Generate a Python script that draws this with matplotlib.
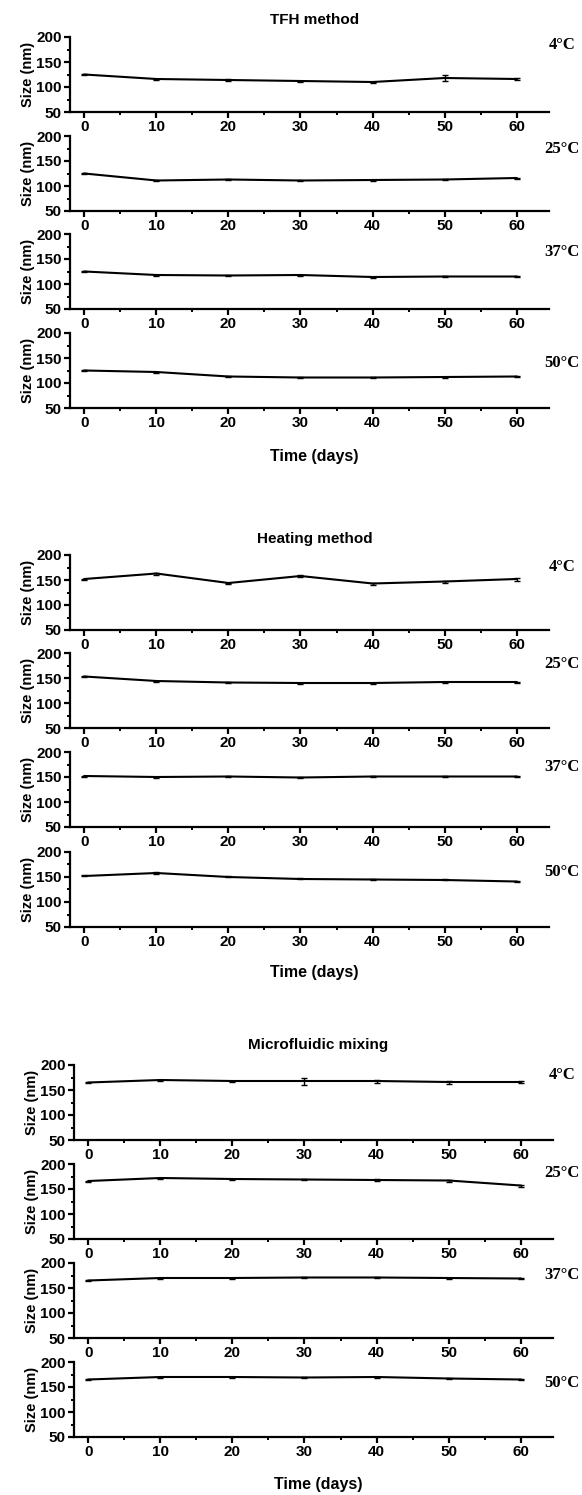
import matplotlib.pyplot as plt
from matplotlib.ticker import MultipleLocator

days = [0, 10, 20, 30, 40, 50, 60]
temps = ["4°C", "25°C", "37°C", "50°C"]
methods = ["TFH method", "Heating method", "Microfluidic mixing"]

# mean particle size (nm), one row per temperature
tfh = [
    [125, 116, 114, 112, 110, 118, 116],
    [125, 111, 113, 111, 112, 113, 116],
    [125, 118, 117, 118, 114, 115, 115],
    [125, 122, 113, 111, 111, 112, 113],
]
tfh_err = [
    [1, 1, 2, 1, 1, 6, 2],
    [1, 1, 1, 1, 1, 1, 1],
    [1, 1, 1, 1, 1, 1, 1],
    [1, 1, 1, 1, 1, 1, 1],
]
heating = [
    [152, 163, 144, 158, 143, 147, 152],
    [153, 144, 141, 140, 140, 142, 142],
    [152, 150, 151, 149, 151, 151, 151],
    [152, 158, 150, 146, 145, 144, 141],
]
heating_err = [
    [1, 2, 1, 2, 2, 2, 3],
    [1, 1, 1, 1, 1, 1, 1],
    [1, 1, 1, 1, 1, 1, 1],
    [1, 2, 1, 1, 1, 1, 1],
]
micro = [
    [165, 170, 168, 168, 168, 166, 166],
    [166, 172, 170, 169, 168, 167, 157],
    [165, 170, 170, 171, 171, 170, 169],
    [165, 170, 170, 169, 170, 167, 165],
]
micro_err = [
    [1, 1, 1, 7, 3, 3, 2],
    [1, 1, 1, 1, 2, 2, 2],
    [1, 1, 1, 1, 1, 1, 1],
    [1, 1, 1, 1, 1, 1, 1],
]
all_means = [tfh, heating, micro]
all_errs = [tfh_err, heating_err, micro_err]

# layout in pixels
W, H = 582, 1495
panel_tops = [[37, 136, 234, 333], [555, 653, 752, 852], [1065, 1164, 1263, 1362]]
panel_h = 75
lefts = [70, 70, 74]
axw = 479
title_y = [20, 539, 1045]
xlabel_y = [456, 973, 1485]
temp_label_x = 562
temp_label_y = [[184, 174, 164, 140], [176, 178, 170, 160], [180, 182, 176, 158]]

fig = plt.figure(figsize=(W / 100, H / 100), dpi=100)
bold = dict(family="Liberation Sans", weight="bold")

for g in range(3):
    for i in range(4):
        top = panel_tops[g][i]
        ax = fig.add_axes([lefts[g] / W, 1 - (top + panel_h) / H, axw / W, panel_h / H])
        ax.errorbar(days, all_means[g][i], yerr=all_errs[g][i], color="black",
                    lw=1.5, capsize=2.5, elinewidth=1, capthick=1)
        ax.set_xlim(-2, 64.5)
        ax.set_ylim(50, 200)
        ax.set_xticks(days)
        ax.set_yticks([50, 100, 150, 200])
        ax.xaxis.set_minor_locator(MultipleLocator(5))
        ax.yaxis.set_minor_locator(MultipleLocator(25))
        for s in ["top", "right"]:
            ax.spines[s].set_visible(False)
        for s in ["left", "bottom"]:
            ax.spines[s].set_linewidth(1.6)
        ax.tick_params(which="major", direction="out", length=4, width=1.6, pad=2)
        ax.tick_params(which="minor", direction="out", length=2.5, width=1.4)
        for lab in ax.get_xticklabels() + ax.get_yticklabels():
            lab.set_fontsize(11)
            lab.set_fontweight("bold")
            lab.set_family("Liberation Sans")
        ax.set_ylabel("Size (nm)", fontsize=10.5, labelpad=1, **bold)
        fig.text(temp_label_x / W, 1 - (top + (200 - temp_label_y[g][i]) / 2) / H, temps[i],
                 ha="center", va="center", fontsize=12, family="Liberation Serif", weight="bold")
    fig.text((lefts[g] + axw / 2 + 5) / W, 1 - title_y[g] / H, methods[g],
             ha="center", va="center", fontsize=11, **bold)
    fig.text((lefts[g] + axw / 2 + 5) / W, 1 - xlabel_y[g] / H, "Time (days)",
             ha="center", va="center", fontsize=11.5, **bold)

fig.savefig("out.png", dpi=100)
